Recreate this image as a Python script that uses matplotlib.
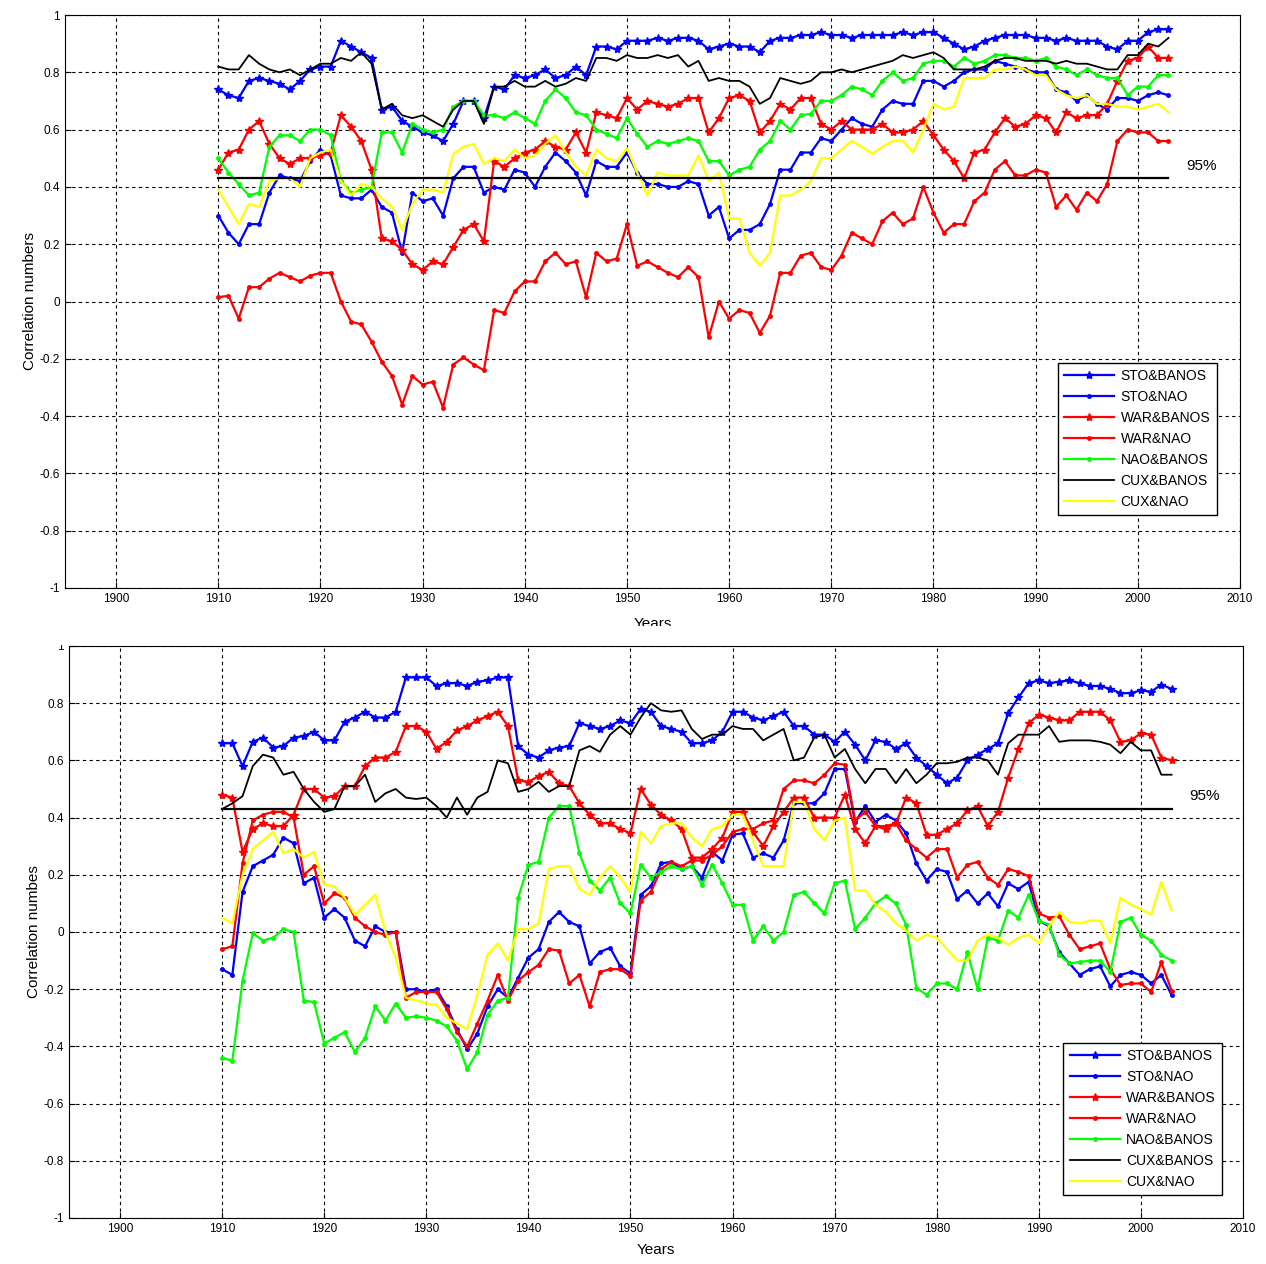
import numpy as np
import matplotlib
matplotlib.use('Agg')
import matplotlib.pyplot as plt
from matplotlib.patches import Rectangle

plt.rcParams['font.family'] = ['Liberation Sans', 'DejaVu Sans']

years = np.arange(1910, 2004)
labels = ['STO&BANOS', 'STO&NAO', 'WAR&BANOS', 'WAR&NAO', 'NAO&BANOS', 'CUX&BANOS', 'CUX&NAO']

# ---- upper panel ----
t_sto_banos = [0.74, 0.72, 0.71, 0.77, 0.78, 0.77, 0.76, 0.74, 0.77, 0.81,
               0.82, 0.82, 0.91, 0.89, 0.87, 0.85, 0.67, 0.68, 0.63, 0.61,
               0.59, 0.58, 0.56, 0.62, 0.70, 0.70, 0.64, 0.75, 0.74, 0.79,
               0.78, 0.79, 0.81, 0.78, 0.79, 0.82, 0.79, 0.89, 0.89, 0.88,
               0.91, 0.91, 0.91, 0.92, 0.91, 0.92, 0.92, 0.91, 0.88, 0.89,
               0.90, 0.89, 0.89, 0.87, 0.91, 0.92, 0.92, 0.93, 0.93, 0.94,
               0.93, 0.93, 0.92, 0.93, 0.93, 0.93, 0.93, 0.94, 0.93, 0.94,
               0.94, 0.92, 0.90, 0.88, 0.89, 0.91, 0.92, 0.93, 0.93, 0.93,
               0.92, 0.92, 0.91, 0.92, 0.91, 0.91, 0.91, 0.89, 0.88, 0.91,
               0.91, 0.94, 0.95, 0.95]
t_sto_nao = [0.30, 0.24, 0.20, 0.27, 0.27, 0.38, 0.44, 0.43, 0.42, 0.49,
             0.53, 0.51, 0.37, 0.36, 0.36, 0.39, 0.33, 0.31, 0.17, 0.38,
             0.35, 0.36, 0.30, 0.43, 0.47, 0.47, 0.38, 0.40, 0.39, 0.46,
             0.45, 0.40, 0.47, 0.52, 0.49, 0.45, 0.37, 0.49, 0.47, 0.47,
             0.52, 0.45, 0.41, 0.41, 0.40, 0.40, 0.42, 0.41, 0.30, 0.33,
             0.22, 0.25, 0.25, 0.27, 0.34, 0.46, 0.46, 0.52, 0.52, 0.57,
             0.56, 0.60, 0.64, 0.62, 0.61, 0.67, 0.70, 0.69, 0.69, 0.77,
             0.77, 0.75, 0.77, 0.80, 0.81, 0.81, 0.84, 0.83, 0.82, 0.81,
             0.80, 0.80, 0.74, 0.73, 0.70, 0.72, 0.69, 0.67, 0.71, 0.71,
             0.70, 0.72, 0.73, 0.72]
t_war_banos = [0.46, 0.52, 0.53, 0.60, 0.63, 0.55, 0.50, 0.48, 0.50, 0.50,
               0.51, 0.52, 0.65, 0.61, 0.56, 0.46, 0.22, 0.21, 0.18, 0.13,
               0.11, 0.14, 0.13, 0.19, 0.25, 0.27, 0.21, 0.49, 0.47, 0.50,
               0.52, 0.53, 0.56, 0.54, 0.53, 0.59, 0.52, 0.66, 0.65, 0.64,
               0.71, 0.67, 0.70, 0.69, 0.68, 0.69, 0.71, 0.71, 0.59, 0.64,
               0.71, 0.72, 0.70, 0.59, 0.63, 0.69, 0.67, 0.71, 0.71, 0.62,
               0.60, 0.63, 0.60, 0.60, 0.60, 0.62, 0.59, 0.59, 0.60, 0.63,
               0.58, 0.53, 0.49, 0.43, 0.52, 0.53, 0.59, 0.64, 0.61, 0.62,
               0.65, 0.64, 0.59, 0.66, 0.64, 0.65, 0.65, 0.69, 0.77, 0.84,
               0.85, 0.89, 0.85, 0.85]
t_war_nao = [0.015, 0.02, -0.06, 0.05, 0.05, 0.08, 0.10, 0.085, 0.07, 0.09,
             0.10, 0.10, 0.0, -0.07, -0.08, -0.14, -0.21, -0.26, -0.36, -0.26,
             -0.29, -0.28, -0.37, -0.22, -0.195, -0.22, -0.24, -0.03, -0.04, 0.035,
             0.07, 0.07, 0.14, 0.17, 0.13, 0.14, 0.015, 0.17, 0.14, 0.15,
             0.27, 0.125, 0.14, 0.12, 0.10, 0.085, 0.12, 0.085, -0.125, 0.0,
             -0.06, -0.03, -0.04, -0.11, -0.05, 0.10, 0.10, 0.16, 0.17, 0.12,
             0.11, 0.16, 0.24, 0.22, 0.20, 0.28, 0.31, 0.27, 0.29, 0.40,
             0.31, 0.24, 0.27, 0.27, 0.35, 0.38, 0.46, 0.49, 0.44, 0.44,
             0.46, 0.45, 0.33, 0.37, 0.32, 0.38, 0.35, 0.41, 0.56, 0.60,
             0.59, 0.59, 0.56, 0.56]
t_nao_banos = [0.50, 0.45, 0.41, 0.37, 0.38, 0.54, 0.58, 0.58, 0.56, 0.60,
               0.60, 0.58, 0.42, 0.38, 0.39, 0.40, 0.59, 0.59, 0.52, 0.62,
               0.60, 0.59, 0.60, 0.68, 0.70, 0.70, 0.65, 0.65, 0.64, 0.66,
               0.64, 0.62, 0.70, 0.74, 0.71, 0.66, 0.65, 0.60, 0.585, 0.57,
               0.64, 0.585, 0.54, 0.56, 0.55, 0.56, 0.57, 0.56, 0.49, 0.49,
               0.44, 0.46, 0.47, 0.53, 0.56, 0.63, 0.60, 0.65, 0.655, 0.70,
               0.70, 0.72, 0.75, 0.74, 0.72, 0.77, 0.80, 0.77, 0.78, 0.83,
               0.84, 0.84, 0.82, 0.85, 0.83, 0.84, 0.86, 0.86, 0.85, 0.85,
               0.84, 0.85, 0.82, 0.81, 0.79, 0.81, 0.79, 0.78, 0.78, 0.72,
               0.75, 0.75, 0.79, 0.79]
t_cux_banos = [0.82, 0.81, 0.81, 0.86, 0.83, 0.81, 0.80, 0.81, 0.79, 0.81,
               0.83, 0.83, 0.85, 0.84, 0.87, 0.83, 0.67, 0.69, 0.65, 0.64,
               0.65, 0.63, 0.61, 0.67, 0.70, 0.70, 0.62, 0.75, 0.75, 0.77,
               0.75, 0.75, 0.77, 0.75, 0.76, 0.78, 0.77, 0.85, 0.85, 0.84,
               0.86, 0.85, 0.85, 0.86, 0.85, 0.86, 0.82, 0.84, 0.77, 0.78,
               0.77, 0.77, 0.75, 0.69, 0.71, 0.78, 0.77, 0.76, 0.77, 0.80,
               0.80, 0.81, 0.80, 0.81, 0.82, 0.83, 0.84, 0.86, 0.85, 0.86,
               0.87, 0.85, 0.81, 0.81, 0.81, 0.82, 0.84, 0.85, 0.85, 0.84,
               0.84, 0.84, 0.83, 0.84, 0.83, 0.83, 0.82, 0.81, 0.81, 0.86,
               0.86, 0.90, 0.89, 0.92]
t_cux_nao = [0.39, 0.33, 0.27, 0.34, 0.33, 0.42, 0.43, 0.43, 0.40, 0.50,
             0.52, 0.53, 0.42, 0.37, 0.41, 0.40, 0.36, 0.33, 0.25, 0.34,
             0.39, 0.39, 0.38, 0.515, 0.54, 0.55, 0.48, 0.50, 0.49, 0.53,
             0.50, 0.51, 0.55, 0.58, 0.52, 0.47, 0.44, 0.53, 0.50, 0.49,
             0.535, 0.45, 0.37, 0.45, 0.44, 0.44, 0.44, 0.51, 0.42, 0.45,
             0.29, 0.29, 0.17, 0.125, 0.17, 0.37, 0.37, 0.39, 0.42, 0.50,
             0.50, 0.53, 0.56, 0.54, 0.515, 0.54, 0.56, 0.56, 0.52, 0.60,
             0.69, 0.67, 0.68, 0.78, 0.78, 0.78, 0.81, 0.81, 0.82, 0.81,
             0.79, 0.79, 0.74, 0.72, 0.71, 0.72, 0.69, 0.69, 0.68, 0.68,
             0.67, 0.68, 0.69, 0.66]

# ---- lower panel ----
b_sto_banos = [0.66, 0.66, 0.58, 0.665, 0.68, 0.645, 0.65, 0.68, 0.685, 0.70,
               0.67, 0.67, 0.735, 0.75, 0.77, 0.75, 0.75, 0.77, 0.89, 0.89,
               0.89, 0.86, 0.87, 0.87, 0.86, 0.875, 0.88, 0.89, 0.89, 0.65,
               0.62, 0.61, 0.635, 0.645, 0.65, 0.73, 0.72, 0.71, 0.72, 0.74,
               0.73, 0.78, 0.77, 0.72, 0.71, 0.70, 0.66, 0.66, 0.67, 0.70,
               0.77, 0.77, 0.75, 0.74, 0.755, 0.77, 0.72, 0.72, 0.69, 0.69,
               0.665, 0.70, 0.655, 0.60, 0.67, 0.665, 0.64, 0.66, 0.61, 0.58,
               0.55, 0.52, 0.54, 0.60, 0.62, 0.64, 0.66, 0.765, 0.82, 0.87,
               0.88, 0.87, 0.875, 0.88, 0.87, 0.86, 0.86, 0.85, 0.835, 0.835,
               0.845, 0.84, 0.865, 0.85]
b_sto_nao = [-0.13, -0.15, 0.14, 0.23, 0.25, 0.27, 0.33, 0.31, 0.17, 0.19,
             0.05, 0.08, 0.05, -0.03, -0.05, 0.02, 0.0, 0.0, -0.20, -0.20,
             -0.21, -0.20, -0.26, -0.34, -0.41, -0.355, -0.26, -0.20, -0.23, -0.16,
             -0.09, -0.06, 0.035, 0.07, 0.035, 0.02, -0.11, -0.07, -0.055, -0.12,
             -0.145, 0.13, 0.16, 0.24, 0.245, 0.22, 0.23, 0.19, 0.28, 0.25,
             0.34, 0.345, 0.26, 0.275, 0.26, 0.32, 0.45, 0.45, 0.45, 0.485,
             0.57, 0.57, 0.385, 0.44, 0.385, 0.41, 0.39, 0.345, 0.24, 0.18,
             0.22, 0.21, 0.115, 0.145, 0.10, 0.135, 0.09, 0.17, 0.15, 0.175,
             0.04, 0.02, -0.07, -0.11, -0.15, -0.13, -0.12, -0.19, -0.15, -0.14,
             -0.15, -0.18, -0.15, -0.22]
b_war_banos = [0.48, 0.47, 0.28, 0.36, 0.38, 0.37, 0.37, 0.41, 0.50, 0.50,
               0.47, 0.475, 0.51, 0.51, 0.58, 0.61, 0.61, 0.63, 0.72, 0.72,
               0.70, 0.64, 0.665, 0.705, 0.72, 0.74, 0.755, 0.77, 0.72, 0.53,
               0.525, 0.545, 0.56, 0.52, 0.51, 0.45, 0.41, 0.38, 0.38, 0.36,
               0.345, 0.50, 0.445, 0.41, 0.39, 0.36, 0.26, 0.26, 0.29, 0.33,
               0.42, 0.42, 0.35, 0.30, 0.37, 0.42, 0.47, 0.47, 0.40, 0.40,
               0.40, 0.48, 0.36, 0.31, 0.37, 0.36, 0.38, 0.47, 0.45, 0.34,
               0.34, 0.36, 0.38, 0.425, 0.44, 0.37, 0.42, 0.54, 0.64, 0.73,
               0.76, 0.75, 0.74, 0.74, 0.77, 0.77, 0.77, 0.74, 0.665, 0.67,
               0.695, 0.69, 0.61, 0.60]
b_war_nao = [-0.06, -0.05, 0.24, 0.39, 0.41, 0.42, 0.42, 0.40, 0.20, 0.23,
             0.10, 0.135, 0.12, 0.05, 0.02, 0.0, -0.01, 0.0, -0.23, -0.21,
             -0.21, -0.21, -0.27, -0.35, -0.40, -0.32, -0.24, -0.15, -0.24, -0.17,
             -0.14, -0.115, -0.06, -0.065, -0.18, -0.15, -0.26, -0.14, -0.13, -0.13,
             -0.155, 0.11, 0.14, 0.22, 0.245, 0.23, 0.25, 0.25, 0.27, 0.30,
             0.35, 0.36, 0.36, 0.38, 0.39, 0.50, 0.53, 0.53, 0.52, 0.55,
             0.59, 0.585, 0.39, 0.42, 0.37, 0.37, 0.38, 0.32, 0.29, 0.26,
             0.29, 0.29, 0.19, 0.235, 0.245, 0.19, 0.165, 0.22, 0.21, 0.195,
             0.065, 0.05, 0.055, -0.01, -0.06, -0.05, -0.04, -0.13, -0.185, -0.18,
             -0.18, -0.21, -0.105, -0.205]
b_nao_banos = [-0.44, -0.45, -0.17, -0.005, -0.03, -0.02, 0.01, 0.0, -0.24, -0.245,
               -0.39, -0.37, -0.35, -0.42, -0.37, -0.26, -0.31, -0.25, -0.30, -0.295,
               -0.30, -0.31, -0.33, -0.38, -0.48, -0.42, -0.29, -0.24, -0.23, 0.12,
               0.235, 0.245, 0.40, 0.44, 0.44, 0.275, 0.18, 0.145, 0.19, 0.10,
               0.065, 0.235, 0.19, 0.21, 0.23, 0.22, 0.23, 0.165, 0.235, 0.17,
               0.095, 0.095, -0.03, 0.02, -0.03, 0.0, 0.13, 0.14, 0.10, 0.065,
               0.17, 0.18, 0.01, 0.05, 0.10, 0.125, 0.10, 0.025, -0.195, -0.22,
               -0.18, -0.18, -0.20, -0.07, -0.20, -0.02, -0.03, 0.075, 0.05, 0.13,
               0.04, 0.025, -0.08, -0.11, -0.105, -0.10, -0.10, -0.14, 0.035, 0.05,
               -0.01, -0.03, -0.08, -0.10]
b_cux_banos = [0.43, 0.45, 0.475, 0.58, 0.62, 0.61, 0.55, 0.56, 0.50, 0.455,
               0.42, 0.43, 0.51, 0.51, 0.55, 0.455, 0.485, 0.50, 0.47, 0.465,
               0.47, 0.44, 0.40, 0.47, 0.41, 0.47, 0.49, 0.60, 0.59, 0.49,
               0.50, 0.525, 0.49, 0.51, 0.51, 0.635, 0.65, 0.63, 0.69, 0.72,
               0.69, 0.75, 0.80, 0.775, 0.77, 0.775, 0.71, 0.675, 0.69, 0.69,
               0.72, 0.71, 0.71, 0.67, 0.69, 0.71, 0.60, 0.61, 0.68, 0.69,
               0.61, 0.64, 0.57, 0.52, 0.57, 0.57, 0.52, 0.57, 0.52, 0.55,
               0.59, 0.59, 0.595, 0.61, 0.61, 0.60, 0.55, 0.66, 0.69, 0.69,
               0.69, 0.72, 0.665, 0.67, 0.67, 0.67, 0.665, 0.655, 0.625, 0.665,
               0.635, 0.635, 0.55, 0.55]
b_cux_nao = [0.05, 0.03, 0.20, 0.29, 0.32, 0.35, 0.275, 0.29, 0.26, 0.28,
             0.165, 0.16, 0.12, 0.06, 0.095, 0.13, 0.0, -0.09, -0.23, -0.24,
             -0.25, -0.255, -0.30, -0.32, -0.34, -0.22, -0.08, -0.04, -0.10, 0.01,
             0.01, 0.03, 0.22, 0.23, 0.23, 0.15, 0.13, 0.19, 0.23, 0.19,
             0.14, 0.35, 0.31, 0.37, 0.38, 0.38, 0.33, 0.30, 0.36, 0.37,
             0.41, 0.41, 0.32, 0.23, 0.23, 0.23, 0.455, 0.455, 0.36, 0.32,
             0.39, 0.40, 0.145, 0.145, 0.095, 0.07, 0.03, 0.005, -0.03, -0.01,
             -0.02, -0.06, -0.10, -0.10, -0.03, -0.01, -0.02, -0.045, -0.02, -0.01,
             -0.04, 0.02, 0.07, 0.035, 0.03, 0.04, 0.04, -0.04, 0.12, 0.095,
             0.08, 0.06, 0.175, 0.075]

level_95 = 0.43
yticks = [-1, -0.8, -0.6, -0.4, -0.2, 0, 0.2, 0.4, 0.6, 0.8, 1]

colors = ['#0000ff', '#0000ff', '#ff0000', '#ff0000', '#00ff00', '#000000', '#ffff00']
markers = ['*', '.', '*', '.', '.', None, None]
msizes = [6, 5, 6, 5, 5, 0, 0]
lwidths = [1.6, 1.6, 1.6, 1.6, 1.6, 1.3, 1.6]

fig = plt.figure(figsize=(12.66, 12.64), dpi=100)
ax1 = fig.add_axes([65 / 1266, 1 - 588 / 1264, 1175 / 1266, 573 / 1264])
ax2 = fig.add_axes([69 / 1266, 1 - 1218 / 1264, 1174 / 1266, 572 / 1264])


def draw_panel(ax, series, ylab, leg_anchor, xpad):
    for s, lab, c, m, ms, lw in zip(series, labels, colors, markers, msizes, lwidths):
        ax.plot(years, s, color=c, marker=m, ms=ms, lw=lw, label=lab)
    ax.plot([years[0], years[-1]], [level_95, level_95], color='black', lw=1.6)
    ax.set_xlim(1895, 2010)
    ax.set_ylim(-1, 1)
    ax.set_xticks(np.arange(1900, 2011, 10))
    ax.set_yticks(yticks)
    ax.set_yticklabels([str(v) for v in yticks])
    ax.tick_params(direction='in', labelsize=8.5, length=4, width=0.8)
    ax.grid(True, color='black', linestyle=(0, (3, 3)), lw=0.8)
    for sp in ax.spines.values():
        sp.set_linewidth(0.8)
    ax.set_ylabel(ylab, fontsize=11, labelpad=2)
    ax.set_xlabel('Years', fontsize=11, labelpad=xpad)
    leg = ax.legend(loc='lower right', bbox_to_anchor=leg_anchor, fontsize=10,
                    handlelength=3.6, labelspacing=0.5, fancybox=False,
                    framealpha=1, edgecolor='black', borderpad=0.45,
                    handletextpad=0.45, borderaxespad=0)
    leg.get_frame().set_linewidth(1)


draw_panel(ax1, [t_sto_banos, t_sto_nao, t_war_banos, t_war_nao,
                 t_nao_banos, t_cux_banos, t_cux_nao],
           'Correlation numbers', (0.98, 0.127), 9)
draw_panel(ax2, [b_sto_banos, b_sto_nao, b_war_banos, b_war_nao,
                 b_nao_banos, b_cux_banos, b_cux_nao],
           'Correlation numbes', (0.982, 0.04), 6)

ax1.text(2004.7, 0.46, '95%', fontsize=11)
ax2.text(2004.7, 0.46, '95%', fontsize=11)

# the upper x label is cut off in the source image
fig.patches.append(Rectangle((0, 1 - 645 / 1264), 1, 19 / 1264, transform=fig.transFigure,
                             facecolor='white', edgecolor='none', zorder=10))

fig.savefig('out.png', dpi=100)
